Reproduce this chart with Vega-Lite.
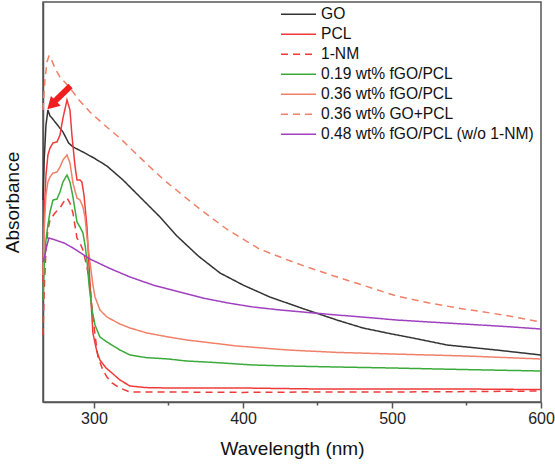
{
  "$schema": "https://vega.github.io/schema/vega-lite/v6.json",
  "autosize": "none",
  "width": 498,
  "height": 400,
  "padding": {"left": 43, "top": 2, "right": 14, "bottom": 62},
  "background": "white",
  "config": {
    "font": "Liberation Sans",
    "view": {"stroke": "#555555", "strokeWidth": 1.5},
    "axis": {"grid": false, "domainColor": "#555555", "domainWidth": 1.5, "tickColor": "#555555", "tickWidth": 1.5, "labelColor": "#222222", "titleColor": "#111111", "labelFont": "Liberation Sans", "titleFont": "Liberation Sans", "titleFontWeight": "normal"},
    "legend": {"labelFont": "Liberation Sans"}
  },
  "datasets": {
    "spectra": [
      {"s": "GO", "x": 265.8, "y": 50.5}, {"s": "GO", "x": 266.6, "y": 60.5}, {"s": "GO", "x": 267.8, "y": 69.25}, {"s": "GO", "x": 269.1, "y": 73}, {"s": "GO", "x": 270.5, "y": 71.5}, {"s": "GO", "x": 271.8, "y": 71}, {"s": "GO", "x": 275, "y": 69.5}, {"s": "GO", "x": 279.2, "y": 67.5}, {"s": "GO", "x": 283, "y": 64.75}, {"s": "GO", "x": 286, "y": 63.75}, {"s": "GO", "x": 292.6, "y": 62.5}, {"s": "GO", "x": 300, "y": 61}, {"s": "GO", "x": 308.7, "y": 59}, {"s": "GO", "x": 319.5, "y": 55.5}, {"s": "GO", "x": 330.9, "y": 51.25}, {"s": "GO", "x": 344.3, "y": 46.25}, {"s": "GO", "x": 355.7, "y": 41.5}, {"s": "GO", "x": 370, "y": 36.5}, {"s": "GO", "x": 384.6, "y": 32.25}, {"s": "GO", "x": 400, "y": 29.25}, {"s": "GO", "x": 418, "y": 26.25}, {"s": "GO", "x": 443, "y": 23}, {"s": "GO", "x": 463, "y": 20.5}, {"s": "GO", "x": 480.5, "y": 18.5}, {"s": "GO", "x": 500, "y": 17}, {"s": "GO", "x": 514, "y": 16}, {"s": "GO", "x": 537, "y": 14.25}, {"s": "GO", "x": 570, "y": 13}, {"s": "GO", "x": 600, "y": 11.75},

      {"s": "PCL", "x": 265.8, "y": 30}, {"s": "PCL", "x": 266.6, "y": 46.75}, {"s": "PCL", "x": 267.8, "y": 56.75}, {"s": "PCL", "x": 269.1, "y": 61.75}, {"s": "PCL", "x": 270.5, "y": 63.5}, {"s": "PCL", "x": 272.5, "y": 64.75}, {"s": "PCL", "x": 275.2, "y": 65}, {"s": "PCL", "x": 277.2, "y": 66.75}, {"s": "PCL", "x": 279.2, "y": 71}, {"s": "PCL", "x": 281.9, "y": 75.5}, {"s": "PCL", "x": 283.9, "y": 73}, {"s": "PCL", "x": 285.2, "y": 66.75}, {"s": "PCL", "x": 287.2, "y": 59.25}, {"s": "PCL", "x": 288.6, "y": 55.5}, {"s": "PCL", "x": 290.6, "y": 55.5}, {"s": "PCL", "x": 291.9, "y": 55}, {"s": "PCL", "x": 293.3, "y": 51.75}, {"s": "PCL", "x": 295.3, "y": 43.75}, {"s": "PCL", "x": 297.3, "y": 29.75}, {"s": "PCL", "x": 299.3, "y": 17.25}, {"s": "PCL", "x": 302, "y": 12.5}, {"s": "PCL", "x": 304, "y": 10.5}, {"s": "PCL", "x": 308.1, "y": 8.5}, {"s": "PCL", "x": 312.1, "y": 7.25}, {"s": "PCL", "x": 317.4, "y": 5.5}, {"s": "PCL", "x": 324.2, "y": 4}, {"s": "PCL", "x": 335, "y": 3.6}, {"s": "PCL", "x": 350, "y": 3.5}, {"s": "PCL", "x": 400, "y": 3.5}, {"s": "PCL", "x": 450, "y": 3.25}, {"s": "PCL", "x": 500, "y": 3.25}, {"s": "PCL", "x": 550, "y": 3.25}, {"s": "PCL", "x": 600, "y": 3.1},

      {"s": "1-NM", "x": 265.8, "y": 16.75}, {"s": "1-NM", "x": 266.6, "y": 28}, {"s": "1-NM", "x": 267.8, "y": 38}, {"s": "1-NM", "x": 269.1, "y": 43}, {"s": "1-NM", "x": 270.5, "y": 45.5}, {"s": "1-NM", "x": 273.8, "y": 47.25}, {"s": "1-NM", "x": 277.2, "y": 48.5}, {"s": "1-NM", "x": 279.2, "y": 49.75}, {"s": "1-NM", "x": 281.9, "y": 51}, {"s": "1-NM", "x": 283.9, "y": 49.75}, {"s": "1-NM", "x": 285.9, "y": 47.25}, {"s": "1-NM", "x": 288.6, "y": 41}, {"s": "1-NM", "x": 290.6, "y": 39.75}, {"s": "1-NM", "x": 292.6, "y": 38}, {"s": "1-NM", "x": 295.3, "y": 33.75}, {"s": "1-NM", "x": 297.3, "y": 29.25}, {"s": "1-NM", "x": 298.7, "y": 23.75}, {"s": "1-NM", "x": 300.7, "y": 16.75}, {"s": "1-NM", "x": 302.7, "y": 11.25}, {"s": "1-NM", "x": 306, "y": 8}, {"s": "1-NM", "x": 308.7, "y": 6.25}, {"s": "1-NM", "x": 312.1, "y": 4.75}, {"s": "1-NM", "x": 317.4, "y": 3.5}, {"s": "1-NM", "x": 324.2, "y": 2.5}, {"s": "1-NM", "x": 350, "y": 2.5}, {"s": "1-NM", "x": 400, "y": 2.4}, {"s": "1-NM", "x": 450, "y": 2.5}, {"s": "1-NM", "x": 500, "y": 2.5}, {"s": "1-NM", "x": 550, "y": 2.6}, {"s": "1-NM", "x": 600, "y": 2.75},

      {"s": "0.19 wt% fGO/PCL", "x": 265.8, "y": 25.5}, {"s": "0.19 wt% fGO/PCL", "x": 266.6, "y": 34.25}, {"s": "0.19 wt% fGO/PCL", "x": 267.8, "y": 40.5}, {"s": "0.19 wt% fGO/PCL", "x": 269.1, "y": 44.25}, {"s": "0.19 wt% fGO/PCL", "x": 270.5, "y": 47.5}, {"s": "0.19 wt% fGO/PCL", "x": 272.5, "y": 50.5}, {"s": "0.19 wt% fGO/PCL", "x": 275.2, "y": 50.75}, {"s": "0.19 wt% fGO/PCL", "x": 277.2, "y": 52.5}, {"s": "0.19 wt% fGO/PCL", "x": 279.2, "y": 55}, {"s": "0.19 wt% fGO/PCL", "x": 281.9, "y": 56.75}, {"s": "0.19 wt% fGO/PCL", "x": 283.9, "y": 55}, {"s": "0.19 wt% fGO/PCL", "x": 285.9, "y": 51.25}, {"s": "0.19 wt% fGO/PCL", "x": 288.6, "y": 45}, {"s": "0.19 wt% fGO/PCL", "x": 290.6, "y": 43.75}, {"s": "0.19 wt% fGO/PCL", "x": 292.6, "y": 42.25}, {"s": "0.19 wt% fGO/PCL", "x": 294, "y": 39.25}, {"s": "0.19 wt% fGO/PCL", "x": 295.3, "y": 35.5}, {"s": "0.19 wt% fGO/PCL", "x": 296.7, "y": 29.25}, {"s": "0.19 wt% fGO/PCL", "x": 298.7, "y": 23}, {"s": "0.19 wt% fGO/PCL", "x": 300.7, "y": 19.25}, {"s": "0.19 wt% fGO/PCL", "x": 304, "y": 16.25}, {"s": "0.19 wt% fGO/PCL", "x": 308.7, "y": 15}, {"s": "0.19 wt% fGO/PCL", "x": 317.4, "y": 13}, {"s": "0.19 wt% fGO/PCL", "x": 324.2, "y": 11.75}, {"s": "0.19 wt% fGO/PCL", "x": 335, "y": 11.1}, {"s": "0.19 wt% fGO/PCL", "x": 350, "y": 10.75}, {"s": "0.19 wt% fGO/PCL", "x": 362, "y": 10.25}, {"s": "0.19 wt% fGO/PCL", "x": 380, "y": 9.9}, {"s": "0.19 wt% fGO/PCL", "x": 406.7, "y": 9.25}, {"s": "0.19 wt% fGO/PCL", "x": 430, "y": 9}, {"s": "0.19 wt% fGO/PCL", "x": 463, "y": 8.75}, {"s": "0.19 wt% fGO/PCL", "x": 500, "y": 8.5}, {"s": "0.19 wt% fGO/PCL", "x": 550, "y": 8.1}, {"s": "0.19 wt% fGO/PCL", "x": 600, "y": 7.75},

      {"s": "0.36 wt% fGO/PCL", "x": 265.8, "y": 31.75}, {"s": "0.36 wt% fGO/PCL", "x": 266.6, "y": 43}, {"s": "0.36 wt% fGO/PCL", "x": 267.8, "y": 51.75}, {"s": "0.36 wt% fGO/PCL", "x": 269.1, "y": 55}, {"s": "0.36 wt% fGO/PCL", "x": 270.5, "y": 56.25}, {"s": "0.36 wt% fGO/PCL", "x": 272.5, "y": 57.25}, {"s": "0.36 wt% fGO/PCL", "x": 275.2, "y": 57.5}, {"s": "0.36 wt% fGO/PCL", "x": 277.2, "y": 58.75}, {"s": "0.36 wt% fGO/PCL", "x": 279.2, "y": 60.5}, {"s": "0.36 wt% fGO/PCL", "x": 281.9, "y": 61.75}, {"s": "0.36 wt% fGO/PCL", "x": 283.9, "y": 59.75}, {"s": "0.36 wt% fGO/PCL", "x": 285.9, "y": 54.75}, {"s": "0.36 wt% fGO/PCL", "x": 288.6, "y": 51}, {"s": "0.36 wt% fGO/PCL", "x": 290.6, "y": 50.5}, {"s": "0.36 wt% fGO/PCL", "x": 292.6, "y": 48.75}, {"s": "0.36 wt% fGO/PCL", "x": 294, "y": 46.25}, {"s": "0.36 wt% fGO/PCL", "x": 295.3, "y": 41.25}, {"s": "0.36 wt% fGO/PCL", "x": 297.3, "y": 35}, {"s": "0.36 wt% fGO/PCL", "x": 299.3, "y": 29.25}, {"s": "0.36 wt% fGO/PCL", "x": 300.7, "y": 26.25}, {"s": "0.36 wt% fGO/PCL", "x": 304, "y": 23}, {"s": "0.36 wt% fGO/PCL", "x": 308.7, "y": 21.25}, {"s": "0.36 wt% fGO/PCL", "x": 317.4, "y": 19.5}, {"s": "0.36 wt% fGO/PCL", "x": 324.2, "y": 18.5}, {"s": "0.36 wt% fGO/PCL", "x": 335.6, "y": 17.25}, {"s": "0.36 wt% fGO/PCL", "x": 350, "y": 16.25}, {"s": "0.36 wt% fGO/PCL", "x": 362.4, "y": 15.5}, {"s": "0.36 wt% fGO/PCL", "x": 396, "y": 14}, {"s": "0.36 wt% fGO/PCL", "x": 430, "y": 13}, {"s": "0.36 wt% fGO/PCL", "x": 463, "y": 12.4}, {"s": "0.36 wt% fGO/PCL", "x": 500, "y": 12}, {"s": "0.36 wt% fGO/PCL", "x": 550, "y": 11.5}, {"s": "0.36 wt% fGO/PCL", "x": 600, "y": 10.75},

      {"s": "0.36 wt% GO+PCL", "x": 265.8, "y": 73}, {"s": "0.36 wt% GO+PCL", "x": 267.1, "y": 80.5}, {"s": "0.36 wt% GO+PCL", "x": 268.5, "y": 85}, {"s": "0.36 wt% GO+PCL", "x": 269.8, "y": 86.5}, {"s": "0.36 wt% GO+PCL", "x": 270.5, "y": 86.5}, {"s": "0.36 wt% GO+PCL", "x": 273.8, "y": 83.5}, {"s": "0.36 wt% GO+PCL", "x": 277.2, "y": 81.25}, {"s": "0.36 wt% GO+PCL", "x": 283.9, "y": 78.5}, {"s": "0.36 wt% GO+PCL", "x": 290, "y": 75.5}, {"s": "0.36 wt% GO+PCL", "x": 297.3, "y": 72.5}, {"s": "0.36 wt% GO+PCL", "x": 307, "y": 69.25}, {"s": "0.36 wt% GO+PCL", "x": 317.4, "y": 66}, {"s": "0.36 wt% GO+PCL", "x": 327, "y": 62.5}, {"s": "0.36 wt% GO+PCL", "x": 337.6, "y": 58.75}, {"s": "0.36 wt% GO+PCL", "x": 347, "y": 55.5}, {"s": "0.36 wt% GO+PCL", "x": 357.7, "y": 52.25}, {"s": "0.36 wt% GO+PCL", "x": 371, "y": 48.25}, {"s": "0.36 wt% GO+PCL", "x": 389, "y": 43.25}, {"s": "0.36 wt% GO+PCL", "x": 411, "y": 38.25}, {"s": "0.36 wt% GO+PCL", "x": 430, "y": 35.5}, {"s": "0.36 wt% GO+PCL", "x": 443, "y": 33.75}, {"s": "0.36 wt% GO+PCL", "x": 461, "y": 31.5}, {"s": "0.36 wt% GO+PCL", "x": 480, "y": 29.25}, {"s": "0.36 wt% GO+PCL", "x": 503, "y": 26.5}, {"s": "0.36 wt% GO+PCL", "x": 525, "y": 24.75}, {"s": "0.36 wt% GO+PCL", "x": 548, "y": 23.25}, {"s": "0.36 wt% GO+PCL", "x": 575, "y": 21.75}, {"s": "0.36 wt% GO+PCL", "x": 600, "y": 20},

      {"s": "0.48 wt% fGO/PCL (w/o 1-NM)", "x": 265.8, "y": 35}, {"s": "0.48 wt% fGO/PCL (w/o 1-NM)", "x": 267.1, "y": 36.75}, {"s": "0.48 wt% fGO/PCL (w/o 1-NM)", "x": 268.5, "y": 39.25}, {"s": "0.48 wt% fGO/PCL (w/o 1-NM)", "x": 269.8, "y": 41}, {"s": "0.48 wt% fGO/PCL (w/o 1-NM)", "x": 272, "y": 40.75}, {"s": "0.48 wt% fGO/PCL (w/o 1-NM)", "x": 280, "y": 39.75}, {"s": "0.48 wt% fGO/PCL (w/o 1-NM)", "x": 286, "y": 38.5}, {"s": "0.48 wt% fGO/PCL (w/o 1-NM)", "x": 297.3, "y": 35.75}, {"s": "0.48 wt% fGO/PCL (w/o 1-NM)", "x": 310, "y": 33.5}, {"s": "0.48 wt% fGO/PCL (w/o 1-NM)", "x": 324.2, "y": 31.25}, {"s": "0.48 wt% fGO/PCL (w/o 1-NM)", "x": 339.6, "y": 29.25}, {"s": "0.48 wt% fGO/PCL (w/o 1-NM)", "x": 355, "y": 27.75}, {"s": "0.48 wt% fGO/PCL (w/o 1-NM)", "x": 373, "y": 26}, {"s": "0.48 wt% fGO/PCL (w/o 1-NM)", "x": 390, "y": 24.75}, {"s": "0.48 wt% fGO/PCL (w/o 1-NM)", "x": 406.7, "y": 23.75}, {"s": "0.48 wt% fGO/PCL (w/o 1-NM)", "x": 425, "y": 23}, {"s": "0.48 wt% fGO/PCL (w/o 1-NM)", "x": 443, "y": 22.4}, {"s": "0.48 wt% fGO/PCL (w/o 1-NM)", "x": 463, "y": 21.75}, {"s": "0.48 wt% fGO/PCL (w/o 1-NM)", "x": 480, "y": 21.25}, {"s": "0.48 wt% fGO/PCL (w/o 1-NM)", "x": 503, "y": 20.5}, {"s": "0.48 wt% fGO/PCL (w/o 1-NM)", "x": 525, "y": 20}, {"s": "0.48 wt% fGO/PCL (w/o 1-NM)", "x": 548, "y": 19.5}, {"s": "0.48 wt% fGO/PCL (w/o 1-NM)", "x": 575, "y": 18.9}, {"s": "0.48 wt% fGO/PCL (w/o 1-NM)", "x": 600, "y": 18.25}
    ],
    "arrow": [
      {"x": 284.3, "y": 79, "x2": 274, "y2": 75.3}
    ],
    "arrowhead": [
      {"x": 272.5, "y": 74.6}
    ]
  },
  "layer": [
    {
      "data": {"name": "spectra"},
      "mark": {"type": "line", "strokeWidth": 1.5, "interpolate": "linear"},
      "encoding": {
        "x": {
          "field": "x", "type": "quantitative",
          "scale": {"domain": [265.8, 600], "nice": false, "zero": false},
          "axis": {
            "title": "Wavelength (nm)", "titleFontSize": 19, "titlePadding": 13,
            "values": [300, 350, 400, 450, 500, 550, 600],
            "labelExpr": "datum.value % 100 == 0 ? datum.label : ''",
            "labelFontSize": 16, "labelPadding": 2, "labelFlush": false,
            "tickSize": {"condition": {"test": "datum.value % 100 != 0", "value": 3}, "value": 6}
          }
        },
        "y": {
          "field": "y", "type": "quantitative",
          "scale": {"domain": [0, 100], "nice": false},
          "axis": {"title": "Absorbance", "titleFontSize": 19, "labels": false, "ticks": false, "titlePadding": 21}
        },
        "color": {
          "field": "s", "type": "nominal",
          "scale": {
            "domain": ["GO", "PCL", "1-NM", "0.19 wt% fGO/PCL", "0.36 wt% fGO/PCL", "0.36 wt% GO+PCL", "0.48 wt% fGO/PCL (w/o 1-NM)"],
            "range": ["#333333", "#f03a3a", "#f03a3a", "#3aaa3a", "#f08068", "#f08068", "#a040c0"]
          },
          "legend": {
            "title": null, "orient": "none", "legendX": 237, "legendY": 2.5,
            "symbolType": "stroke", "symbolSize": 1225, "symbolStrokeWidth": 1.5,
            "clipHeight": 19.5, "rowPadding": 0, "padding": 0,
            "labelFontSize": 15.6, "labelColor": "#111111", "labelOffset": 4, "labelLimit": 400
          }
        },
        "strokeDash": {
          "field": "s", "type": "nominal",
          "scale": {
            "domain": ["GO", "PCL", "1-NM", "0.19 wt% fGO/PCL", "0.36 wt% fGO/PCL", "0.36 wt% GO+PCL", "0.48 wt% fGO/PCL (w/o 1-NM)"],
            "range": [[1, 0], [1, 0], [7, 5], [1, 0], [1, 0], [7, 5], [1, 0]]
          },
          "legend": {
            "title": null, "orient": "none", "legendX": 237, "legendY": 2.5,
            "symbolType": "stroke", "symbolSize": 1225, "symbolStrokeWidth": 1.5,
            "clipHeight": 19.5, "rowPadding": 0, "padding": 0,
            "labelFontSize": 15.6, "labelColor": "#111111", "labelOffset": 4, "labelLimit": 400
          }
        }
      }
    },
    {
      "data": {"name": "arrow"},
      "mark": {"type": "rule", "color": "#f01e1e", "strokeWidth": 6},
      "encoding": {
        "x": {"field": "x", "type": "quantitative"},
        "y": {"field": "y", "type": "quantitative"},
        "x2": {"field": "x2"},
        "y2": {"field": "y2"}
      }
    },
    {
      "data": {"name": "arrowhead"},
      "mark": {"type": "point", "shape": "triangle", "filled": true, "color": "#f01e1e", "size": 190, "angle": 225, "opacity": 1},
      "encoding": {
        "x": {"field": "x", "type": "quantitative"},
        "y": {"field": "y", "type": "quantitative"}
      }
    }
  ]
}
